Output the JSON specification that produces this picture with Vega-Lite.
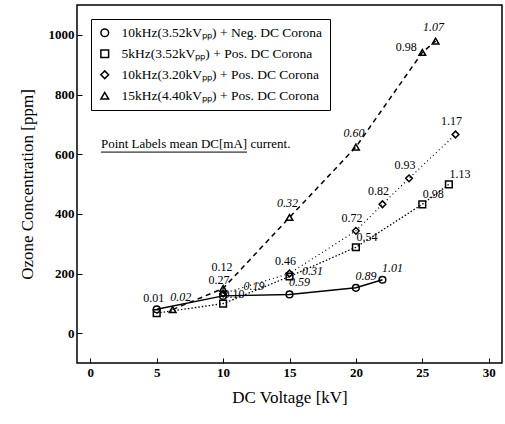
{
  "$schema": "https://vega.github.io/schema/vega-lite/v6.json",
  "width": 425,
  "height": 358,
  "autosize": {"type": "none"},
  "padding": {"left": 77, "top": 5, "right": 3, "bottom": 61},
  "config": {
    "font": "Liberation Serif",
    "view": {"stroke": "black", "strokeWidth": 1.5},
    "axis": {
      "grid": false,
      "domain": false,
      "tickColor": "black",
      "tickSize": -5,
      "labelFont": "Liberation Serif",
      "labelFontSize": 13,
      "labelFontWeight": "bold",
      "labelColor": "black",
      "titleFont": "Liberation Serif",
      "titleFontSize": 17,
      "titleFontWeight": "normal",
      "titleColor": "black"
    },
    "legend": {
      "labelFont": "Liberation Serif",
      "labelFontSize": 13.5,
      "labelColor": "black",
      "labelLimit": 400
    }
  },
  "datasets": {
    "pts": [
      {"series": "10kHz(3.52kVₚₚ) + Neg. DC Corona", "kv": 5, "ppm": 80, "label": ""},
      {"series": "10kHz(3.52kVₚₚ) + Neg. DC Corona", "kv": 10, "ppm": 125, "label": "0.19"},
      {"series": "10kHz(3.52kVₚₚ) + Neg. DC Corona", "kv": 15, "ppm": 130, "label": "0.59"},
      {"series": "10kHz(3.52kVₚₚ) + Neg. DC Corona", "kv": 20, "ppm": 152, "label": "0.89"},
      {"series": "10kHz(3.52kVₚₚ) + Neg. DC Corona", "kv": 22, "ppm": 179, "label": "1.01"},
      {"series": "\u2002\u20025kHz(3.52kVₚₚ) + Pos. DC Corona", "kv": 5, "ppm": 67, "label": "0.01"},
      {"series": "\u2002\u20025kHz(3.52kVₚₚ) + Pos. DC Corona", "kv": 10, "ppm": 99, "label": "0.10"},
      {"series": "\u2002\u20025kHz(3.52kVₚₚ) + Pos. DC Corona", "kv": 15, "ppm": 190, "label": "0.31"},
      {"series": "\u2002\u20025kHz(3.52kVₚₚ) + Pos. DC Corona", "kv": 20, "ppm": 288, "label": "0.54"},
      {"series": "\u2002\u20025kHz(3.52kVₚₚ) + Pos. DC Corona", "kv": 25, "ppm": 432, "label": "0.98"},
      {"series": "\u2002\u20025kHz(3.52kVₚₚ) + Pos. DC Corona", "kv": 27, "ppm": 499, "label": "1.13"},
      {"series": "10kHz(3.20kVₚₚ) + Pos. DC Corona", "kv": 10, "ppm": 133, "label": "0.27"},
      {"series": "10kHz(3.20kVₚₚ) + Pos. DC Corona", "kv": 15, "ppm": 200, "label": "0.46"},
      {"series": "10kHz(3.20kVₚₚ) + Pos. DC Corona", "kv": 20, "ppm": 343, "label": "0.72"},
      {"series": "10kHz(3.20kVₚₚ) + Pos. DC Corona", "kv": 22, "ppm": 432, "label": "0.82"},
      {"series": "10kHz(3.20kVₚₚ) + Pos. DC Corona", "kv": 24, "ppm": 519, "label": "0.93"},
      {"series": "10kHz(3.20kVₚₚ) + Pos. DC Corona", "kv": 27.5, "ppm": 666, "label": "1.17"},
      {"series": "15kHz(4.40kVₚₚ) + Pos. DC Corona", "kv": 6.2, "ppm": 79, "label": "0.02"},
      {"series": "15kHz(4.40kVₚₚ) + Pos. DC Corona", "kv": 10, "ppm": 150, "label": "0.12"},
      {"series": "15kHz(4.40kVₚₚ) + Pos. DC Corona", "kv": 15, "ppm": 388, "label": "0.32"},
      {"series": "15kHz(4.40kVₚₚ) + Pos. DC Corona", "kv": 20, "ppm": 624, "label": "0.60"},
      {"series": "15kHz(4.40kVₚₚ) + Pos. DC Corona", "kv": 25, "ppm": 941, "label": "0.98"},
      {"series": "15kHz(4.40kVₚₚ) + Pos. DC Corona", "kv": 26, "ppm": 979, "label": "1.07"}
    ],
    "note": [
      {"x": 0.8, "x2": 11.8, "y": 633, "yline": 607, "text": "Point Labels mean DC[mA] current."}
    ]
  },
  "encoding": {
    "x": {
      "field": "kv", "type": "quantitative",
      "scale": {"domain": [-1, 31], "nice": false, "zero": false},
      "axis": {"values": [0, 5, 10, 15, 20, 25, 30], "title": "DC Voltage [kV]", "labelPadding": 8, "titlePadding": 10}
    },
    "y": {
      "field": "ppm", "type": "quantitative",
      "scale": {"domain": [-100, 1100], "nice": false, "zero": false},
      "axis": {"values": [0, 200, 400, 600, 800, 1000], "format": "d", "title": "Ozone Concentration [ppm]", "labelPadding": 8, "titlePadding": 12}
    }
  },
  "layer": [
    {
      "data": {"name": "pts"},
      "transform": [{"filter": "indexof(datum.series, 'Neg.') >= 0"}],
      "mark": {"type": "line", "color": "black", "strokeWidth": 1.5},
      "encoding": {}
    },
    {
      "data": {"name": "pts"},
      "transform": [{"filter": "indexof(datum.series, '5kHz(3.52') >= 0 && indexof(datum.series, '10kHz') < 0"}],
      "mark": {"type": "line", "color": "black", "strokeWidth": 1.3, "strokeDash": [1.5, 2]},
      "encoding": {}
    },
    {
      "data": {"name": "pts"},
      "transform": [{"filter": "indexof(datum.series, '3.20') >= 0"}],
      "mark": {"type": "line", "color": "black", "strokeWidth": 1.2, "strokeDash": [1, 3]},
      "encoding": {}
    },
    {
      "data": {"name": "pts"},
      "transform": [{"filter": "indexof(datum.series, '4.40') >= 0"}],
      "mark": {"type": "line", "color": "black", "strokeWidth": 1.5, "strokeDash": [5, 4]},
      "encoding": {}
    },
    {
      "data": {"name": "pts"},
      "mark": {"type": "point", "filled": false, "color": "black", "strokeWidth": 1.5, "size": 45, "opacity": 1},
      "encoding": {
        "shape": {
          "field": "series", "type": "nominal",
          "scale": {
            "domain": ["10kHz(3.52kVₚₚ) + Neg. DC Corona", "\u2002\u20025kHz(3.52kVₚₚ) + Pos. DC Corona", "10kHz(3.20kVₚₚ) + Pos. DC Corona", "15kHz(4.40kVₚₚ) + Pos. DC Corona"],
            "range": ["circle", "square", "diamond", "triangle-up"]
          },
          "legend": {
            "title": null,
            "orient": "top-left",
            "offset": 14,
            "padding": 7,
            "rowPadding": 6,
            "strokeColor": "black",
            "fillColor": "white",
            "symbolStrokeColor": "black",
            "symbolStrokeWidth": 1.5,
            "symbolSize": 60,
            "labelOffset": 10
          }
        }
      }
    },
    {
      "data": {"name": "pts"},
      "transform": [{"filter": "indexof(datum.series, 'Neg.') >= 0 && datum.kv != 10"}],
      "mark": {"type": "text", "dx": 10, "dy": -12, "fontSize": 12, "fontStyle": "italic", "fill": "black"},
      "encoding": {"text": {"field": "label"}}
    },
    {
      "data": {"name": "pts"},
      "transform": [{"filter": "indexof(datum.series, 'Neg.') >= 0 && datum.kv == 10"}],
      "mark": {"type": "text", "dx": 31, "dy": -10, "fontSize": 12, "fontStyle": "italic", "fill": "black"},
      "encoding": {"text": {"field": "label"}}
    },
    {
      "data": {"name": "pts"},
      "transform": [{"filter": "indexof(datum.series, '5kHz(3.52') >= 0 && indexof(datum.series, '10kHz') < 0 && datum.kv > 6 && datum.kv != 15"}],
      "mark": {"type": "text", "dx": 11, "dy": -10, "fontSize": 12, "fill": "black"},
      "encoding": {"text": {"field": "label"}}
    },
    {
      "data": {"name": "pts"},
      "transform": [{"filter": "indexof(datum.series, '5kHz(3.52') >= 0 && indexof(datum.series, '10kHz') < 0 && datum.kv == 15"}],
      "mark": {"type": "text", "dx": 23, "dy": -5, "fontSize": 12, "fontStyle": "italic", "fill": "black"},
      "encoding": {"text": {"field": "label"}}
    },
    {
      "data": {"name": "pts"},
      "transform": [{"filter": "indexof(datum.series, '5kHz(3.52') >= 0 && indexof(datum.series, '10kHz') < 0 && datum.kv <= 6"}],
      "mark": {"type": "text", "dx": -3, "dy": -15, "fontSize": 12, "fill": "black"},
      "encoding": {"text": {"field": "label"}}
    },
    {
      "data": {"name": "pts"},
      "transform": [{"filter": "indexof(datum.series, '3.20') >= 0"}],
      "mark": {"type": "text", "dx": -4, "dy": -13, "fontSize": 12, "fill": "black"},
      "encoding": {"text": {"field": "label"}}
    },
    {
      "data": {"name": "pts"},
      "transform": [{"filter": "indexof(datum.series, '4.40') >= 0 && datum.kv != 6.2 && datum.kv != 25 && datum.kv != 10"}],
      "mark": {"type": "text", "dx": -2, "dy": -14, "fontSize": 12, "fontStyle": "italic", "fill": "black"},
      "encoding": {"text": {"field": "label"}}
    },
    {
      "data": {"name": "pts"},
      "transform": [{"filter": "indexof(datum.series, '4.40') >= 0 && datum.kv == 10"}],
      "mark": {"type": "text", "dx": -1, "dy": -21, "fontSize": 12, "fill": "black"},
      "encoding": {"text": {"field": "label"}}
    },
    {
      "data": {"name": "pts"},
      "transform": [{"filter": "indexof(datum.series, '4.40') >= 0 && datum.kv == 6.2"}],
      "mark": {"type": "text", "dx": 8, "dy": -13, "fontSize": 12, "fontStyle": "italic", "fill": "black"},
      "encoding": {"text": {"field": "label"}}
    },
    {
      "data": {"name": "pts"},
      "transform": [{"filter": "indexof(datum.series, '4.40') >= 0 && datum.kv == 25"}],
      "mark": {"type": "text", "dx": -16, "dy": -5, "fontSize": 12, "fill": "black"},
      "encoding": {"text": {"field": "label"}}
    },
    {
      "data": {"name": "note"},
      "mark": {"type": "text", "align": "left", "baseline": "middle", "fontSize": 13, "fill": "black"},
      "encoding": {
        "x": {"field": "x", "type": "quantitative"},
        "y": {"field": "y", "type": "quantitative"},
        "text": {"field": "text"}
      }
    },
    {
      "data": {"name": "note"},
      "mark": {"type": "rule", "color": "black", "strokeWidth": 1},
      "encoding": {
        "x": {"field": "x", "type": "quantitative"},
        "x2": {"field": "x2"},
        "y": {"field": "yline", "type": "quantitative"}
      }
    }
  ]
}
